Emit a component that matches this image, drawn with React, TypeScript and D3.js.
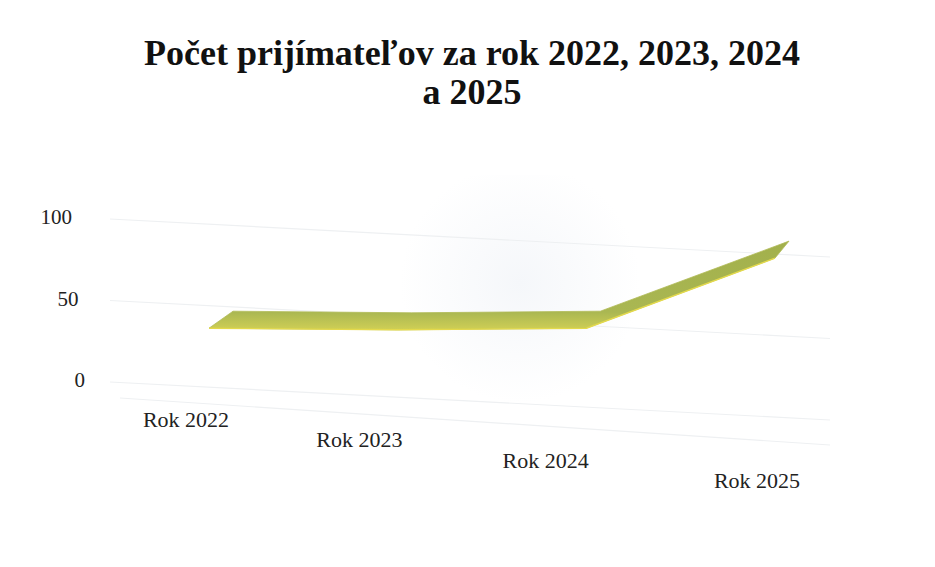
import React, { useRef, useEffect } from 'react';
import * as d3 from 'd3';

const categories = ['Rok 2022', 'Rok 2023', 'Rok 2024', 'Rok 2025'];
const values = [37, 36, 37, 80];
const yTicks = [0, 50, 100];
const titleLines = ['Počet prijímateľov za rok 2022, 2023, 2024', 'a 2025'];

const W = 935;
const H = 567;

const App: React.FC = () => {
  const svgRef = useRef<SVGSVGElement | null>(null);

  useEffect(() => {
    const svg = d3.select(svgRef.current!);
    svg.selectAll('*').remove();

    const font = '"Liberation Serif", "Times New Roman", serif';

    const defs = svg.append('defs');
    const bg = defs.append('radialGradient').attr('id', 'wall').attr('cx', '50%').attr('cy', '45%').attr('r', '50%');
    bg.append('stop').attr('offset', '0%').attr('stop-color', '#f5f7fa');
    bg.append('stop').attr('offset', '100%').attr('stop-color', '#ffffff');
    const rib = defs.append('linearGradient').attr('id', 'rib').attr('x1', 0).attr('y1', 0).attr('x2', 0).attr('y2', 1);
    rib.append('stop').attr('offset', '0%').attr('stop-color', '#a2b04c');
    rib.append('stop').attr('offset', '80%').attr('stop-color', '#aab752');
    rib.append('stop').attr('offset', '100%').attr('stop-color', '#cfcf55');

    svg.append('rect').attr('width', W).attr('height', H).attr('fill', '#ffffff');
    svg.append('rect').attr('x', 400).attr('y', 175).attr('width', 240).attr('height', 240).attr('fill', 'url(#wall)');

    // title
    const title = svg.append('text')
      .attr('text-anchor', 'middle')
      .attr('font-family', font)
      .attr('font-weight', 'bold')
      .attr('font-size', 36)
      .attr('fill', '#111');
    titleLines.forEach((t, i) => {
      title.append('tspan').attr('x', 472).attr('y', 65 + i * 39).text(t);
    });

    const y = d3.scaleLinear().domain([0, 100]).range([380, 217]);
    // tick labels drift right as they go down (3D wall)
    const tickX = d3.scaleLinear().domain([0, 100]).range([85, 72]);

    // faint slanted gridlines on the wall/floor
    const grid = svg.append('g').attr('stroke', '#eef0f2').attr('stroke-width', 1.2).attr('fill', 'none');
    yTicks.forEach((t) => {
      grid.append('line')
        .attr('x1', 110).attr('y1', y(t) + 2)
        .attr('x2', 830).attr('y2', y(t) + 40);
    });
    grid.append('line').attr('x1', 120).attr('y1', 398).attr('x2', 830).attr('y2', 445);

    svg.append('g')
      .selectAll('text')
      .data(yTicks)
      .enter()
      .append('text')
      .attr('x', (d) => tickX(d))
      .attr('y', (d) => y(d) + 7)
      .attr('text-anchor', 'end')
      .attr('font-family', font)
      .attr('font-size', 21)
      .attr('fill', '#222')
      .text((d) => String(d));

    const x = d3.scalePoint<string>().domain(categories).range([216, 782]);
    const labelX = d3.scaleLinear().domain([0, 3]).range([186, 757]);
    const labelY = d3.scaleLinear().domain([0, 3]).range([427, 488]);
    const labelShift = [0, -17, -21, 0];

    svg.append('g')
      .selectAll('text')
      .data(categories)
      .enter()
      .append('text')
      .attr('x', (d, i) => labelX(i) + labelShift[i])
      .attr('y', (d, i) => labelY(i))
      .attr('text-anchor', 'middle')
      .attr('font-family', font)
      .attr('font-size', 22)
      .attr('fill', '#222')
      .text((d) => d);

    // 3D ribbon: top edge pushed back/right, bottom edge forward/left
    const depthX = 14;
    const depthY = 17;
    const pts = categories.map((c, i) => [x(c)!, y(values[i])] as [number, number]);
    const top = pts.map(([px, py]) => [px + depthX / 2, py - depthY / 2] as [number, number]);
    const bottom = pts.map(([px, py]) => [px - depthX / 2, py + depthY / 2] as [number, number]).reverse();
    top[0][0] += 10;
    const poly = top.concat(bottom);

    svg.append('path')
      .attr('d', 'M' + poly.map((p) => p.join(',')).join('L') + 'Z')
      .attr('fill', 'url(#rib)')
      .attr('stroke', '#b0ba56')
      .attr('stroke-width', 0.8)
      .attr('stroke-linejoin', 'round');

    svg.append('path')
      .attr('d', d3.line()(bottom.slice().reverse()))
      .attr('fill', 'none')
      .attr('stroke', '#e3d94c')
      .attr('stroke-width', 1.4);
  }, []);

  return <svg ref={svgRef} width={W} height={H} style={{ position: 'absolute', left: 0, top: 0 }}></svg>;
};

export default App;
